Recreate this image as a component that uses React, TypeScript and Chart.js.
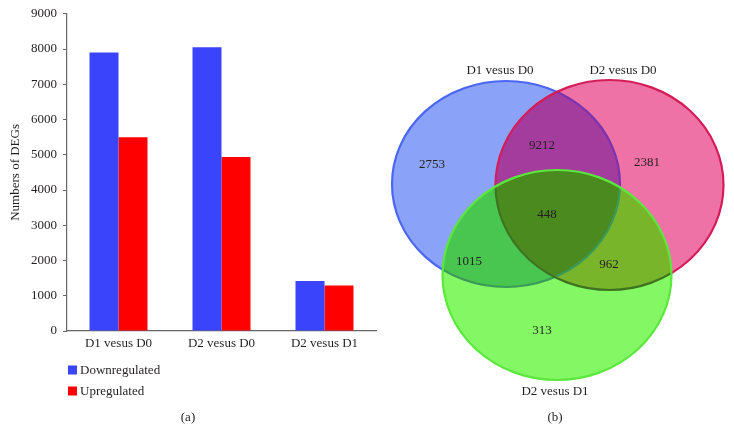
import React, { useEffect, useRef } from "react";
import { Chart, registerables } from "chart.js";

Chart.register(...registerables);

// ---------- data: panel (a) ----------
const categories = ["D1 vesus D0", "D2 vesus D0", "D2 vesus D1"];
const downregulated = [7900, 8050, 1420];
const upregulated = [5500, 4940, 1290];
const seriesNames = ["Downregulated", "Upregulated"];
const yMin = 0;
const yMax = 9000;
const yStep = 1000;
const yTitle = "Numbers of DEGs";
const panelA = "(a)";

// ---------- data: panel (b) ----------
const vennSetNames = ["D1 vesus D0", "D2 vesus D0", "D2 vesus D1"];
const vennRegionCounts = [2753, 9212, 2381, 448, 1015, 962, 313];
const panelB = "(b)";

// ---------- layout (venn geometry in the panel's own units) ----------
const vennEllipses = [
  { cx: -51, cy: 38, rx: 114, ry: 103 },
  { cx: 52.5, cy: 37, rx: 114, ry: 105 },
  { cx: 0, cy: -53, rx: 114.5, ry: 105 },
];
const vennRegionPos = [
  [-125, 57],
  [-15, 76],
  [90, 59],
  [-10, 7],
  [-88, -40],
  [52, -43],
  [-15, -109],
];
const vennSetLabelPos = [
  [-57, 151],
  [66, 151],
  [-2, -170],
];
const panelBPos = [-2, -196];

// ---------- styles ----------
const FONT = '"Liberation Serif", "DejaVu Serif", serif';
const TEXT = "#231f20";
const AXIS = "#666666";
const BAR_COLORS = ["#3a44fb", "#fe0000"];
const FILLS = {
  a: "#8aa2f8",
  b: "#ef72a6",
  c: "#84f864",
  ab: "#a43c9d",
  ac: "#48c650",
  bc: "#79b52a",
  abc: "#4a8a1f",
};
const STROKES = {
  a: "#4b66f2",
  aInB: "#7a34b0",
  aInC: "#3a9a5a",
  b: "#d41c58",
  bInC: "#3e7420",
  c: "#5ae83c",
};

Chart.defaults.font.family = FONT;
Chart.defaults.color = TEXT;

const legendPlugin = {
  id: "sideLegend",
  afterDraw(chart: any) {
    const { ctx } = chart;
    ctx.save();
    ctx.font = `13px ${FONT}`;
    ctx.textBaseline = "middle";
    ctx.textAlign = "left";
    const ys = [370, 391];
    chart.data.datasets.forEach((ds: any, i: number) => {
      ctx.fillStyle = ds.backgroundColor;
      ctx.fillRect(68, ys[i] - 4.5, 9, 9);
      ctx.fillStyle = TEXT;
      ctx.fillText(ds.label, 80, ys[i] + 1);
    });
    ctx.textAlign = "center";
    ctx.fillText(panelA, 188, 418);
    ctx.restore();
  },
};

const vennPlugin = {
  id: "venn",
  beforeDatasetsDraw(chart: any) {
    const { ctx, scales } = chart;
    const x = scales.x;
    const y = scales.y;
    const P = vennEllipses.map((e) => {
      const px = x.getPixelForValue(e.cx);
      const py = y.getPixelForValue(e.cy);
      const rx = Math.abs(x.getPixelForValue(e.cx + e.rx) - px);
      const ry = Math.abs(y.getPixelForValue(e.cy + e.ry) - py);
      const p = new Path2D();
      p.ellipse(px, py, rx, ry, 0, 0, Math.PI * 2);
      return p;
    });
    const outside = (p: Path2D) => {
      const o = new Path2D();
      o.rect(0, 0, chart.width, chart.height);
      o.addPath(p);
      return o;
    };
    const fill = (p: Path2D, color: string, clips: Path2D[]) => {
      ctx.save();
      clips.forEach((c) => ctx.clip(c));
      ctx.fillStyle = color;
      ctx.fill(p);
      ctx.restore();
    };
    fill(P[0], FILLS.a, []);
    fill(P[1], FILLS.b, []);
    fill(P[2], FILLS.c, []);
    fill(P[1], FILLS.ab, [P[0]]);
    fill(P[2], FILLS.ac, [P[0]]);
    fill(P[2], FILLS.bc, [P[1]]);
    fill(P[2], FILLS.abc, [P[0], P[1]]);

    const stroke = (
      p: Path2D,
      color: string,
      inside: Path2D[],
      outs: Path2D[]
    ) => {
      ctx.save();
      inside.forEach((c) => ctx.clip(c));
      outs.forEach((c) => ctx.clip(outside(c), "evenodd"));
      ctx.strokeStyle = color;
      ctx.lineWidth = 2.2;
      ctx.stroke(p);
      ctx.restore();
    };
    stroke(P[0], STROKES.a, [], [P[1], P[2]]);
    stroke(P[0], STROKES.aInB, [P[1]], [P[2]]);
    stroke(P[1], STROKES.b, [], [P[2]]);
    stroke(P[0], STROKES.aInC, [P[2]], []);
    stroke(P[1], STROKES.bInC, [P[2]], []);
    stroke(P[2], STROKES.c, [], []);
  },
  afterDatasetsDraw(chart: any) {
    const { ctx, scales } = chart;
    const x = scales.x;
    const y = scales.y;
    ctx.save();
    ctx.font = `13px ${FONT}`;
    ctx.fillStyle = TEXT;
    ctx.textAlign = "center";
    ctx.textBaseline = "middle";
    const meta = chart.getDatasetMeta(0);
    meta.data.forEach((pt: any, i: number) => {
      ctx.fillText(String(vennRegionCounts[i]), pt.x, pt.y);
    });
    vennSetNames.forEach((n, i) => {
      ctx.fillText(
        n,
        x.getPixelForValue(vennSetLabelPos[i][0]),
        y.getPixelForValue(vennSetLabelPos[i][1])
      );
    });
    ctx.fillText(
      panelB,
      x.getPixelForValue(panelBPos[0]),
      y.getPixelForValue(panelBPos[1])
    );
    ctx.restore();
  },
};

export default function App() {
  const barRef = useRef<HTMLCanvasElement>(null);
  const vennRef = useRef<HTMLCanvasElement>(null);

  useEffect(() => {
    const bar = new Chart(barRef.current as HTMLCanvasElement, {
      type: "bar",
      data: {
        labels: categories,
        datasets: [
          {
            label: seriesNames[0],
            data: downregulated,
            backgroundColor: BAR_COLORS[0],
            categoryPercentage: 0.563,
            barPercentage: 1,
          },
          {
            label: seriesNames[1],
            data: upregulated,
            backgroundColor: BAR_COLORS[1],
            categoryPercentage: 0.563,
            barPercentage: 1,
          },
        ],
      },
      options: {
        responsive: false,
        animation: false,
        events: [],
        layout: { padding: { top: 13, right: 4, left: 0, bottom: 0 } },
        plugins: { legend: { display: false }, tooltip: { enabled: false } },
        scales: {
          x: {
            grid: { display: false, drawTicks: false },
            border: { display: true, color: AXIS, width: 1.2 },
            ticks: { font: { size: 13, family: FONT }, color: TEXT, padding: 5 },
            afterFit: (s: any) => {
              s.height = 113;
            },
          },
          y: {
            min: yMin,
            max: yMax,
            grid: {
              display: true,
              drawOnChartArea: false,
              drawTicks: true,
              tickLength: 4,
              color: AXIS,
            },
            border: { display: true, color: AXIS, width: 1.2 },
            ticks: {
              stepSize: yStep,
              font: { size: 13, family: FONT },
              color: TEXT,
              padding: 6,
              callback: (v: any) => String(v),
            },
            title: {
              display: true,
              text: yTitle,
              font: { size: 13, family: FONT },
              color: TEXT,
              padding: { top: 8, bottom: 0 },
            },
            afterFit: (s: any) => {
              s.width = 67;
            },
          },
        },
      },
      plugins: [legendPlugin],
    } as any);

    const venn = new Chart(vennRef.current as HTMLCanvasElement, {
      type: "scatter",
      data: {
        datasets: [
          {
            label: "regions",
            data: vennRegionCounts.map((c, i) => ({
              x: vennRegionPos[i][0],
              y: vennRegionPos[i][1],
              count: c,
            })),
            pointRadius: 0,
          },
        ],
      },
      options: {
        responsive: false,
        animation: false,
        events: [],
        layout: { padding: 0 },
        plugins: { legend: { display: false }, tooltip: { enabled: false } },
        scales: {
          x: { type: "linear", min: -177, max: 177, display: false },
          y: { type: "linear", min: -222, max: 222, display: false },
        },
      },
      plugins: [vennPlugin],
    } as any);

    return () => {
      bar.destroy();
      venn.destroy();
    };
  }, []);

  return (
    <div
      style={{
        position: "fixed",
        left: 0,
        top: 0,
        width: 734,
        height: 444,
        background: "#ffffff",
        overflow: "hidden",
      }}
    >
      <canvas
        ref={barRef}
        width={380}
        height={444}
        style={{ position: "absolute", left: 0, top: 0, display: "block" }}
      />
      <canvas
        ref={vennRef}
        width={354}
        height={444}
        style={{ position: "absolute", left: 380, top: 0, display: "block" }}
      />
    </div>
  );
}
